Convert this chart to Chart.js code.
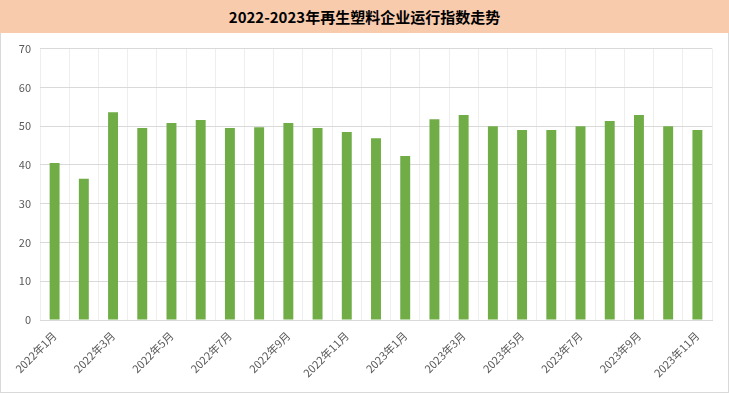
<!DOCTYPE html>
<html>
<head>
<meta charset="utf-8">
<script src="https://cdn.jsdelivr.net/npm/chart.js@4"></script>
<style>
body{margin:0;background:#fff;width:729px;height:394px;overflow:hidden;}
#title{height:33px;line-height:33px;background:#f8cbad;text-align:center;font-family:"Noto Sans CJK SC",sans-serif;font-weight:bold;font-size:15px;color:#000;}
#box{position:relative;width:727px;height:359px;border:1px solid #d9d9d9;border-top:none;}
</style>
</head>
<body>
<div id="title">2022-2023年再生塑料企业运行指数走势</div>
<div id="box"><canvas id="chart"></canvas></div>
<script>

let months = ["2022年1月","2022年2月","2022年3月","2022年4月","2022年5月","2022年6月","2022年7月","2022年8月","2022年9月","2022年10月","2022年11月","2022年12月",
"2023年1月","2023年2月","2023年3月","2023年4月","2023年5月","2023年6月","2023年7月","2023年8月","2023年9月","2023年10月","2023年11月"];

let indexValues = [40.5,36.4,53.6,49.5,50.8,51.6,49.5,49.7,50.8,49.5,48.5,46.9,
42.3,51.8,52.9,50.0,49.0,49.0,50.0,51.3,52.9,50.0,49.0];

let yTicks = [0,10,20,30,40,50,60,70];

let chart = new Chart(document.getElementById("chart"),{

type:"bar",

data:{
labels:months,
datasets:[{
label:"运行指数",
data:indexValues,
backgroundColor:"#70ad47",
categoryPercentage:1,
barPercentage:0.34
}]
},

options:{
responsive:false,
animation:false,
layout:{padding:{top:7,right:7,left:0,bottom:0}},
plugins:{legend:{display:false},tooltip:{enabled:false}},
scales:{
x:{
grid:{color:"#eeeeee",offset:true,drawTicks:false},
border:{color:"#d9d9d9"},
ticks:{
autoSkip:false,
maxRotation:45,
minRotation:45,
color:"#595959",
padding:9,
font:{family:"'Noto Sans CJK SC', sans-serif",size:11},
callback:function(v,i){ return i%2==0 ? months[i] : ""; }
},
afterFit:function(s){ s.height=72; }
},
y:{
min:0,
max:70,
afterBuildTicks:function(s){ s.ticks=yTicks.map(v=>({value:v})); },
grid:{color:"#d9d9d9",drawTicks:false},
border:{display:false},
ticks:{color:"#595959",padding:9,font:{family:"'Noto Sans CJK SC', sans-serif",size:11}},
afterFit:function(s){ s.width=39; }
}
}
}

})

chart.resize(727,359);

</script>
</body>
</html>
